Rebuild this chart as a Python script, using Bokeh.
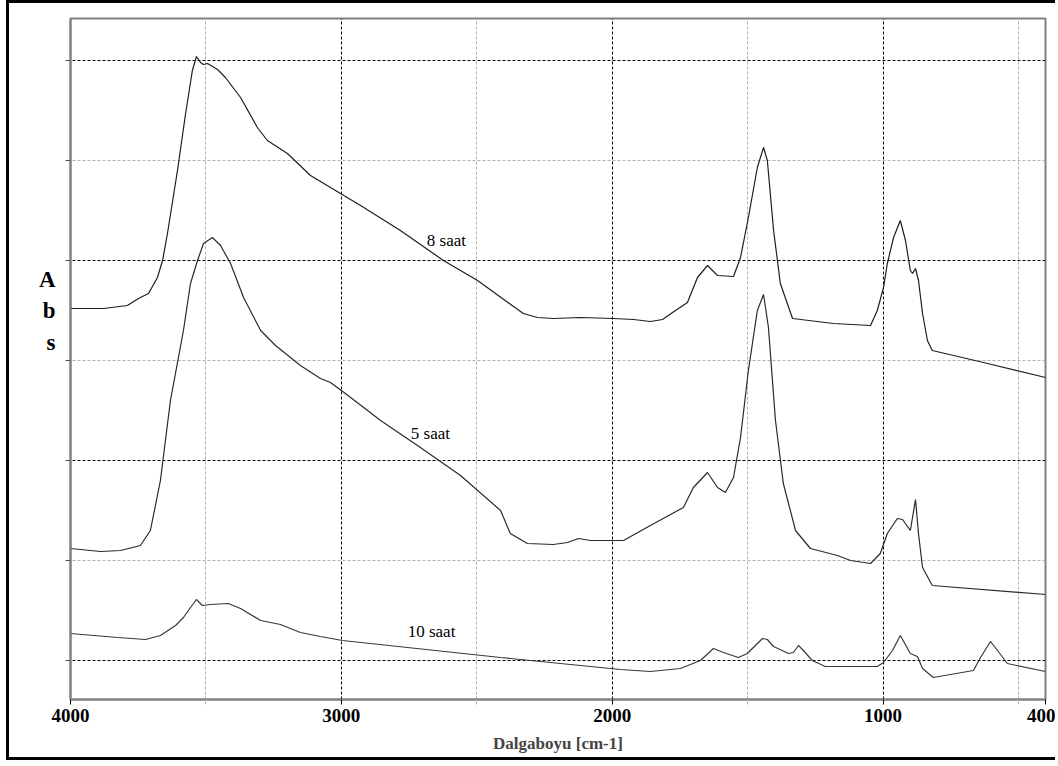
from bokeh.plotting import figure
from bokeh.models import Range1d, FixedTicker, Label
from bokeh.embed import file_html
from bokeh.resources import INLINE

# ---- data (wavenumber cm-1, absorbance) ----
wn_8 = [4000, 3878, 3790, 3749, 3712, 3679, 3660, 3642, 3605, 3575, 3550, 3535, 3520, 3509,
        3494, 3457, 3428, 3372, 3310, 3273, 3199, 3114, 3003, 2929, 2782, 2623, 2497, 2328,
        2276, 2217, 2117, 1995, 1921, 1859, 1814, 1777, 1722, 1685, 1648, 1611, 1552, 1526,
        1497, 1464, 1441, 1427, 1404, 1379, 1334, 1183, 1046, 1021, 998, 984, 961, 936, 917,
        899, 891, 880, 869, 854, 836, 818, 629, 400]
abs_8 = [1.76, 1.76, 1.775, 1.81, 1.835, 1.915, 2.0, 2.135, 2.45, 2.735, 2.95, 3.02, 2.99, 2.98,
         2.985, 2.955, 2.915, 2.815, 2.665, 2.6, 2.535, 2.425, 2.335, 2.275, 2.15, 2.0, 1.9, 1.735,
         1.715, 1.71, 1.715, 1.71, 1.705, 1.695, 1.705, 1.74, 1.79, 1.915, 1.975, 1.925, 1.92, 2.015,
         2.215, 2.465, 2.565, 2.5, 2.15, 1.885, 1.71, 1.685, 1.675, 1.75, 1.865, 1.985, 2.115, 2.2, 2.1,
         1.95, 1.935, 1.96, 1.9, 1.735, 1.6, 1.55, 1.49, 1.415]

wn_5 = [4000, 3889, 3815, 3742, 3705, 3668, 3631, 3583, 3557, 3531, 3509, 3476, 3446, 3409,
        3361, 3298, 3243, 3151, 3077, 3040, 2985, 2855, 2708, 2560, 2412, 2376, 2313, 2217,
        2165, 2124, 2080, 1958, 1859, 1737, 1700, 1648, 1611, 1582, 1552, 1526, 1497, 1464,
        1441, 1423, 1397, 1368, 1323, 1268, 1168, 1120, 1046, 1010, 984, 947, 928, 899, 880,
        869, 854, 818, 400]
abs_5 = [0.56, 0.545, 0.55, 0.575, 0.65, 0.9, 1.3, 1.65, 1.885, 2.0, 2.085, 2.115, 2.075, 1.985,
         1.815, 1.65, 1.575, 1.475, 1.41, 1.39, 1.335, 1.2, 1.065, 0.925, 0.75, 0.635, 0.585, 0.58,
         0.59, 0.61, 0.6, 0.6, 0.675, 0.765, 0.865, 0.94, 0.865, 0.84, 0.915, 1.115, 1.45, 1.75,
         1.83, 1.665, 1.2, 0.885, 0.65, 0.56, 0.525, 0.5, 0.485, 0.535, 0.635, 0.71, 0.705, 0.65, 0.805,
         0.635, 0.465, 0.375, 0.33]

wn_10 = [4000, 3826, 3723, 3668, 3612, 3583, 3557, 3535, 3513, 3483, 3417, 3372, 3298, 3225,
         3151, 3077, 2996, 2412, 2191, 1969, 1859, 1748, 1674, 1626, 1589, 1534, 1501, 1445,
         1427, 1404, 1349, 1331, 1312, 1294, 1261, 1213, 1021, 998, 965, 936, 899, 873, 854,
         814, 666, 640, 603, 577, 541, 400]
abs_10 = [0.135, 0.115, 0.105, 0.125, 0.175, 0.215, 0.265, 0.305, 0.275, 0.28, 0.285, 0.26, 0.2, 0.18,
          0.14, 0.12, 0.1, 0.015, -0.015, -0.045, -0.055, -0.04, 0.0, 0.06, 0.04, 0.015, 0.035, 0.11,
          0.105, 0.07, 0.035, 0.04, 0.075, 0.05, 0.0, -0.03, -0.03, -0.01, 0.05, 0.125, 0.035, 0.02, -0.04,
          -0.085, -0.05, 0.015, 0.095, 0.05, -0.015, -0.055]

series_names = ["8 saat", "5 saat", "10 saat"]
x_ticks = [4000, 3000, 2000, 1000, 400]
x_minor = [3500, 2500, 1500, 500]
y_grid_major = [0, 1, 2, 3]
y_grid_minor = [0.5, 1.5, 2.5]
y_title_letters = ["A", "b", "s"]

SERIF = "Liberation Serif"

p = figure(width=1049, height=760, output_backend="svg", toolbar_location=None,
           x_range=Range1d(4000, 400), y_range=Range1d(-0.195, 3.21),
           min_border_left=61, min_border_right=13, min_border_top=15, min_border_bottom=64)
p.styles = {"margin-left": "6px",
            "border-left": "3px solid black",
            "border-top": "3px solid black",
            "border-bottom": "3px solid black"}
p.background_fill_color = "white"
p.border_fill_color = "white"
p.outline_line_color = "#808080"
p.outline_line_width = 2

# grids
p.xgrid.ticker = FixedTicker(ticks=[3000, 2000, 1000], minor_ticks=x_minor)
p.ygrid.ticker = FixedTicker(ticks=y_grid_major, minor_ticks=y_grid_minor)
for g in (p.xgrid, p.ygrid):
    g.grid_line_color = "black"
    g.grid_line_dash = "3 2"
    g.grid_line_width = 1
    g.minor_grid_line_color = "#b0b0b0"
    g.minor_grid_line_dash = "3 2"
    g.minor_grid_line_width = 1

# bottom axis
xa = p.xaxis[0]
xa.ticker = FixedTicker(ticks=x_ticks, minor_ticks=x_minor)
xa.axis_line_color = "#808080"
xa.axis_line_width = 2
xa.major_tick_line_color = "black"
xa.minor_tick_line_color = "#b0b0b0"
xa.major_tick_out = 5
xa.major_tick_in = 0
xa.minor_tick_out = 5
xa.minor_tick_in = 0
xa.major_label_text_font = SERIF
xa.major_label_text_font_style = "bold"
xa.major_label_text_font_size = "19px"
xa.major_label_text_color = "black"
xa.major_label_standoff = 4
xa.axis_label = "Dalgaboyu [cm-1]"
xa.axis_label_text_font = SERIF
xa.axis_label_text_font_style = "bold"
xa.axis_label_text_font_size = "17px"
xa.axis_label_standoff = 9

# left axis: tick marks at grid rows, stacked "A b s" title as labels
letter_pos = [1.904, 1.749, 1.589]
ya = p.yaxis[0]
ya.ticker = FixedTicker(ticks=letter_pos, minor_ticks=y_grid_major + y_grid_minor)
ya.major_label_overrides = dict(zip(letter_pos, y_title_letters))
ya.axis_line_color = "#808080"
ya.axis_line_width = 2
ya.major_tick_line_color = None
ya.major_tick_out = 0
ya.major_tick_in = 0
ya.minor_tick_line_color = "#505050"
ya.minor_tick_out = 5
ya.minor_tick_in = 0
ya.major_label_text_font = SERIF
ya.major_label_text_font_style = "bold"
ya.major_label_text_font_size = "23px"
ya.major_label_text_color = "black"
ya.major_label_standoff = 10

# curves
p.line(wn_8, abs_8, line_color="#1e1e1e", line_width=1.2)
p.line(wn_5, abs_5, line_color="#2a2a2a", line_width=1.2)
p.line(wn_10, abs_10, line_color="#2f3f2f", line_width=1.2)

# curve labels
for name, (lx, ly) in zip(series_names, [(2612, 2.10), (2671, 1.135), (2667, 0.145)]):
    p.add_layout(Label(x=lx, y=ly, text=name, text_font=SERIF, text_font_size="17px",
                       text_align="center", text_baseline="alphabetic", text_color="black"))

open("out.html", "w").write(file_html(p, INLINE))
